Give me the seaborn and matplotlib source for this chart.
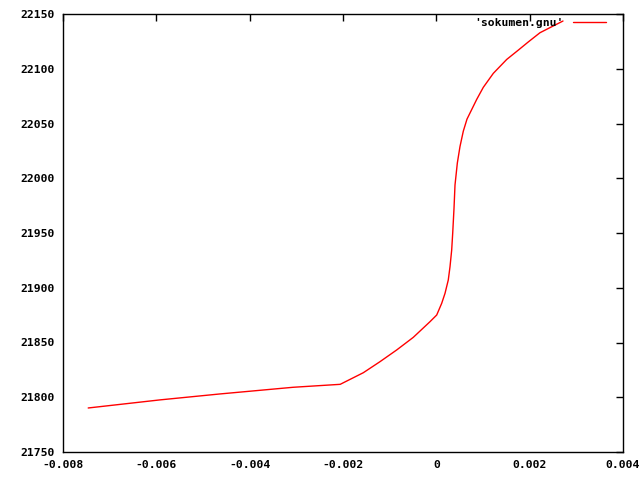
import numpy as np
import pandas as pd
import seaborn as sns
import matplotlib.pyplot as plt
from matplotlib.ticker import FixedLocator, FixedFormatter

# values
x_vals = [-0.00746, -0.00592, -0.00464, -0.00307, -0.00206, -0.00185, -0.001565,
          -0.001207, -0.000849, -0.000494, -0.000136, 0.000008, 0.000115, 0.000186,
          0.000256, 0.000293, 0.000329, 0.000351, 0.000379, 0.0004, 0.00045,
          0.000507, 0.000578, 0.000657, 0.000865, 0.001006, 0.001221, 0.001508,
          0.001756, 0.001971, 0.002221, 0.002714]
y_vals = [21790.2, 21797.6, 21803.0, 21809.1, 21811.8, 21816.3, 21822.4,
          21832.5, 21843.2, 21854.7, 21869.0, 21875.1, 21885.8, 21894.9,
          21907.1, 21919.2, 21934.5, 21950.0, 21972.8, 21993.8, 22013.9,
          22029.0, 22043.0, 22054.0, 22072.0, 22083.0, 22095.8, 22108.5,
          22117.0, 22124.5, 22132.9, 22143.6]

x_ticks = [-0.008, -0.006, -0.004, -0.002, 0, 0.002, 0.004]
x_labels = ['-0.008', '-0.006', '-0.004', '-0.002', '0', '0.002', '0.004']
y_ticks = [21750, 21800, 21850, 21900, 21950, 22000, 22050, 22100, 22150]
y_labels = [str(v) for v in y_ticks]

df = pd.DataFrame({'x': x_vals, 'y': y_vals})

sns.set_style('white')
plt.rcParams['font.family'] = ['DejaVu Sans Mono']
plt.rcParams['font.weight'] = 'bold'
plt.rcParams['text.color'] = 'black'
plt.rcParams['xtick.color'] = 'black'
plt.rcParams['ytick.color'] = 'black'

fig = plt.figure(figsize=(6.4, 4.8), dpi=100)
ax = fig.add_axes([63 / 640, 28 / 480, 560 / 640, 438 / 480])

sns.lineplot(data=df, x='x', y='y', color='red', linewidth=1.0, sort=False,
             estimator=None, label="'sokumen.gnu'", ax=ax)

ax.set_xlim(-0.008, 0.004)
ax.set_ylim(21750, 22150)
ax.xaxis.set_major_locator(FixedLocator(x_ticks))
ax.xaxis.set_major_formatter(FixedFormatter(x_labels))
ax.yaxis.set_major_locator(FixedLocator(y_ticks))
ax.yaxis.set_major_formatter(FixedFormatter(y_labels))
ax.set_xlabel('')
ax.set_ylabel('')

for s in ax.spines.values():
    s.set_color('black')
    s.set_linewidth(1.0)
ax.tick_params(direction='in', length=5, width=1, color='black', labelcolor='black',
               top=True, right=True, labelsize=8.2, pad=6)
for lab in ax.get_xticklabels() + ax.get_yticklabels():
    lab.set_fontweight('bold')

leg = ax.legend(loc='upper right', bbox_to_anchor=(0.9696, 0.992), frameon=False,
                markerfirst=False, handlelength=2.9, handletextpad=0.8,
                borderaxespad=0, borderpad=0, labelcolor='black',
                prop={'family': 'DejaVu Sans Mono', 'weight': 'bold', 'size': 8.2})

plt.savefig('out.png', dpi=100)
